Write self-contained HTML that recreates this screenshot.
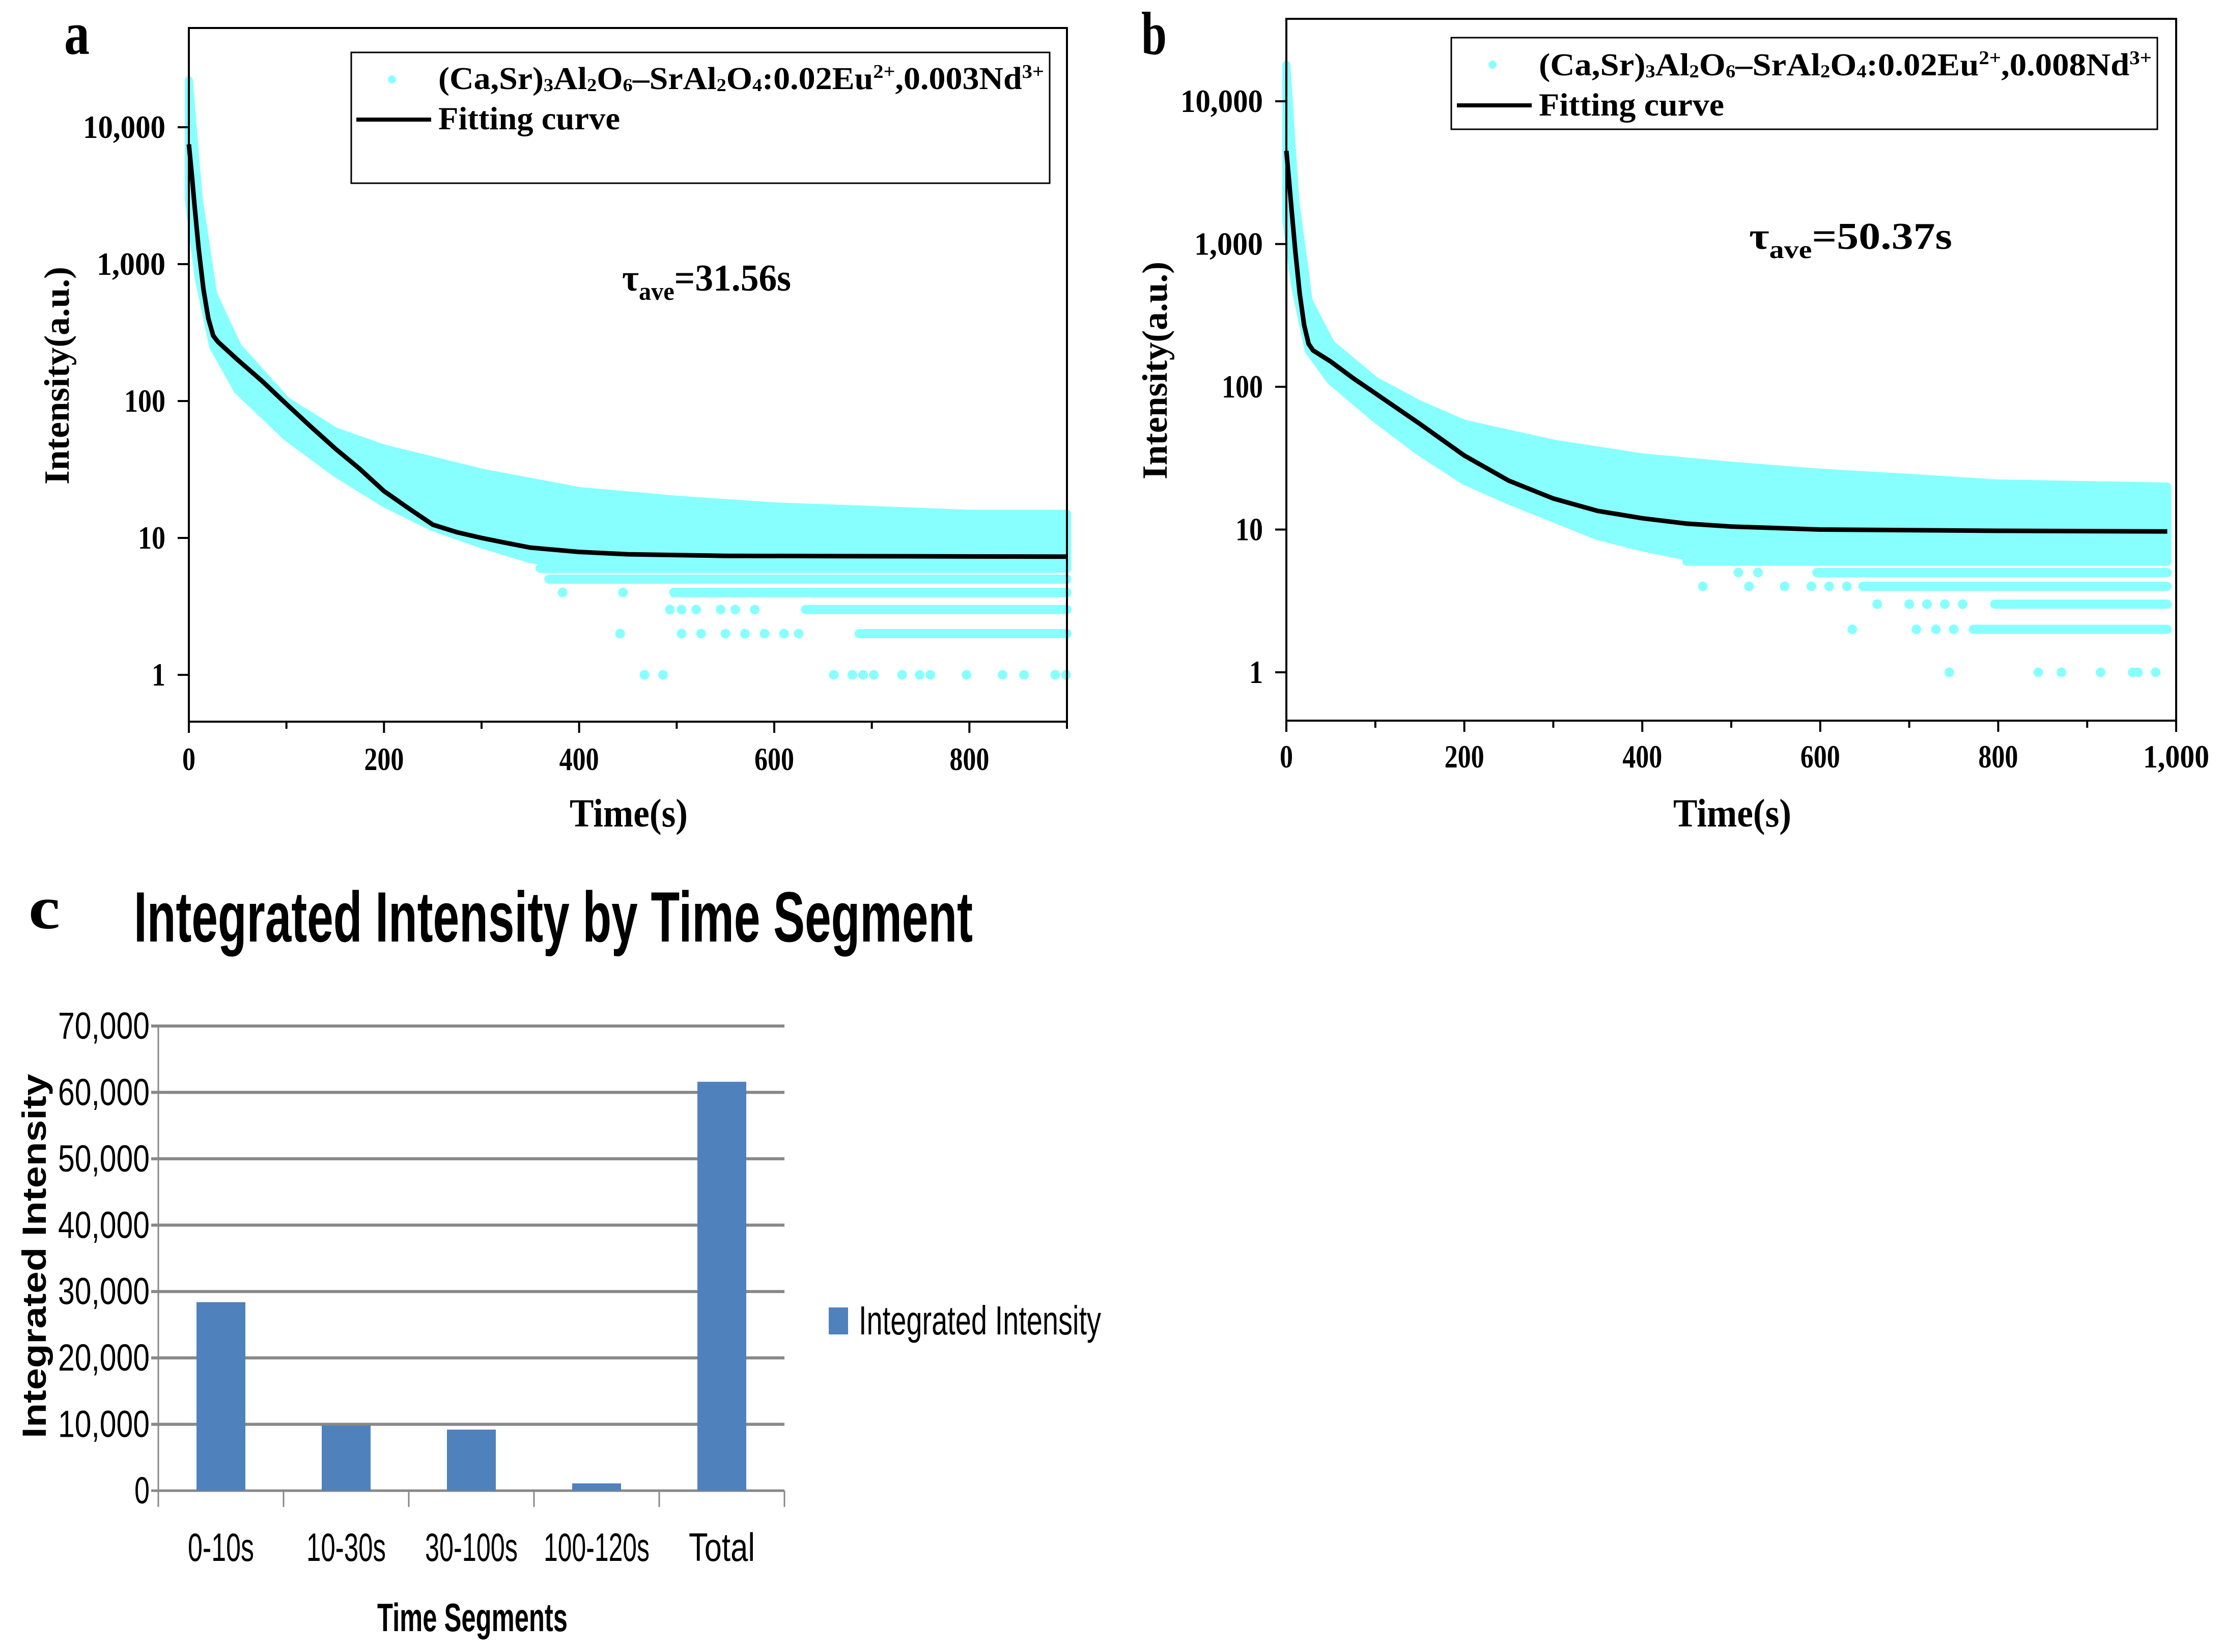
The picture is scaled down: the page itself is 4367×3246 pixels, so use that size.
<!DOCTYPE html>
<html><head><meta charset="utf-8"><style>
html,body{margin:0;padding:0;background:#fff;}
svg{display:block;}
.serif{font-family:"Liberation Serif","DejaVu Serif",serif;font-weight:bold;}
.sans{font-family:"Liberation Sans","DejaVu Sans",sans-serif;}
</style></head><body>
<svg id="fig" xmlns="http://www.w3.org/2000/svg" width="4367" height="3246" viewBox="0 0 4367 3246">
<rect x="0" y="0" width="4367" height="3246" fill="#fff"/>
<g id="panelA"></g>
<g id="panelB"></g>
<g id="panelC"></g>
</svg>
<script>
// ---------- Panel a data ----------
const aFitT=[0,3,6,10,15,20,25,30,50,75,100,125,150,175,200,225,250,275,300,325,350,400,450,550,900];
const aFitV=[7500,4500,2600,1300,650,400,300,270,200,140,95,65,45,32,22,16.5,12.5,11,10,9.2,8.5,7.9,7.6,7.4,7.3];
const aUpT=[0,5,10,25,50,100,150,200,300,400,500,600,700,800,900];
const aUpV=[22000,8000,3000,600,250,100,60,45,30,22,19,17,16,15,15];
const aLoT=[0,10,25,50,100,150,200,250,300,350,400,900];
const aLoV=[3000,800,250,120,55,30,18,12,9,7,6.2,6];
const aRowLevel=[6,5,4,3,2];
const aRowStart=[360,369,497,632,687];
const aRowEnd=[900,900,900,900,900];
const aDotT=[383,445,493,505,520,545,560,580,442,505,525,550,570,590,610,625,467,486,661,680,691,702,731,749,760,797,834,856,888,899];
const aDotV=[4,4,3,3,3,3,3,3,2,2,2,2,2,2,2,2,1,1,1,1,1,1,1,1,1,1,1,1,1,1];
const aXTicks=[0,200,400,600,800];
const aXLabels=["0","200","400","600","800"];
const aYTicks=[10000,1000,100,10,1];
const aYLabels=["10,000","1,000","100","10","1"];

// ---------- Panel b data ----------
const bFitT=[0,3,6,10,15,20,25,30,50,75,100,150,200,250,300,350,400,450,500,600,800,990];
const bFitV=[4500,2800,1700,900,450,270,200,180,150,115,90,55,33,22,16.5,13.5,12,11,10.5,10,9.8,9.7];
const bUpT=[0,5,10,25,50,100,150,200,300,400,500,600,700,800,990];
const bUpV=[18000,6000,2000,400,200,110,75,55,40,32,28,25,23,21,20];
const bLoT=[0,10,25,50,100,150,200,250,300,350,400,450,990];
const bLoV=[1500,500,180,110,60,35,22,16,12,9,7.5,6.5,6];
const bRowLevel=[6,5,4,3,2];
const bRowStart=[450,596,648,796,772];
const bRowEnd=[990,990,990,990,990];
const bDotT=[508,530,468,520,560,590,610,630,664,700,720,740,760,636,708,730,750,745,845,871,915,951,957,977];
const bDotV=[5,5,4,4,4,4,4,4,3,3,3,3,3,2,2,2,2,1,1,1,1,1,1,1];
const bXTicks=[0,200,400,600,800,1000];
const bXLabels=["0","200","400","600","800","1,000"];
const bYTicks=[10000,1000,100,10,1];
const bYLabels=["10,000","1,000","100","10","1"];

// ---------- Panel c data ----------
const cCategories=["0-10s","10-30s","30-100s","100-120s","Total"];
const cValues=[28400,9800,9200,1100,61600];
const cYTicks=[0,10000,20000,30000,40000,50000,60000,70000];
const cYLabels=["0","10,000","20,000","30,000","40,000","50,000","60,000","70,000"];

const NS="http://www.w3.org/2000/svg";
function mk(parent,tag,attrs,text){
  const e=document.createElementNS(NS,tag);
  for(const k in attrs) e.setAttribute(k,attrs[k]);
  if(text!==undefined) e.textContent=text;
  parent.appendChild(e);
  return e;
}
const CYAN="#88ffff";

function decayPanel(g,geo,fitT,fitV,upT,upV,loT,loV,rowL,rowS,rowE,dotT,dotV,xT,xL,yT,yL,texts){
  const X=t=>geo.left+(t/geo.xmax)*(geo.right-geo.left);
  const Y=v=>geo.y1-Math.log10(v)*geo.dec;
  let pts=[];
  for(let i=0;i<upT.length;i++) pts.push(X(upT[i]).toFixed(1)+","+Y(upV[i]).toFixed(1));
  for(let i=loT.length-1;i>=0;i--) pts.push(X(loT[i]).toFixed(1)+","+Y(loV[i]).toFixed(1));
  const cloud=mk(g,"polygon",{points:pts.join(" "),fill:CYAN,stroke:CYAN,"stroke-width":16,"stroke-linejoin":"round"});
  
  
  for(let i=0;i<rowL.length;i++){
    const r=mk(g,"line",{x1:X(rowS[i]),x2:X(rowE[i]),y1:Y(rowL[i]),y2:Y(rowL[i]),stroke:CYAN,"stroke-width":18,"stroke-linecap":"round"});
    
    
  }
  for(let i=0;i<dotT.length;i++){
    const d=mk(g,"circle",{cx:X(dotT[i]),cy:Y(dotV[i]),r:9.5,fill:CYAN});
    
    
  }
  let fp=[];
  for(let i=0;i<fitT.length;i++) fp.push(X(fitT[i]).toFixed(1)+","+Y(fitV[i]).toFixed(1));
  const fit=mk(g,"polyline",{points:fp.join(" "),fill:"none",stroke:"#000","stroke-width":9,"stroke-linejoin":"round"});
  
  
  const fr=mk(g,"rect",{x:geo.left,y:geo.top,width:geo.right-geo.left,height:geo.bottom-geo.top,fill:"none",stroke:"#000","stroke-width":4});
  
  
  for(let t=0;t<=geo.xmax;t+=100){
    const major=(t%200===0);
    mk(g,"line",{x1:X(t),x2:X(t),y1:geo.bottom,y2:geo.bottom+(major?22:14),stroke:"#000","stroke-width":4});
  }
  for(let i=0;i<xT.length;i++){
    const w=xL[i].length*26;
    const tx=mk(g,"text",{x:X(xT[i]),y:geo.xlabY,"text-anchor":"middle","font-size":64,class:"serif",textLength:w,lengthAdjust:"spacingAndGlyphs"},xL[i]);
    
    
  }
  for(let i=0;i<yT.length;i++){
    const y=Y(yT[i]);
    mk(g,"line",{x1:geo.left-22,x2:geo.left,y1:y,y2:y,stroke:"#000","stroke-width":4});
    const w=yL[i].length*27;
    const ty=mk(g,"text",{x:geo.left-46,y:y+21,"text-anchor":"end","font-size":64,class:"serif",textLength:w,lengthAdjust:"spacingAndGlyphs"},yL[i]);
    
    
  }
  const xt=mk(g,"text",{x:texts.xTitleX,y:1624,"text-anchor":"middle","font-size":78,class:"serif",textLength:232,lengthAdjust:"spacingAndGlyphs"},"Time(s)");
  
  
  const yt=mk(g,"text",{x:0,y:0,"text-anchor":"middle","font-size":70,class:"serif",textLength:428,lengthAdjust:"spacingAndGlyphs",transform:"translate("+texts.yTitleX+","+texts.yTitleY+") rotate(-90)"},"Intensity(a.u.)");
  
  
  const pl=mk(g,"text",{x:texts.labX,y:106,"font-size":120,class:"serif",textLength:50,lengthAdjust:"spacingAndGlyphs"},texts.label);
  
  
  const lg=mk(g,"g",{});
  
  
  mk(lg,"rect",{x:texts.lgX,y:texts.lgY,width:texts.lgW,height:texts.lgH,fill:"#fff",stroke:"#000","stroke-width":3});
  mk(lg,"circle",{cx:texts.mX,cy:texts.mY,r:8,fill:CYAN});
  const lt=mk(lg,"text",{x:texts.tX,y:texts.tY,"font-size":62,class:"serif",textLength:texts.tW,lengthAdjust:"spacingAndGlyphs"});
  
  
  const parts=[["(Ca,Sr)",0],["3",1],["Al",0],["2",1],["O",0],["6",1],["–SrAl",0],["2",1],["O",0],["4",1],[":0.02Eu",0],["2+",2],[","+texts.nd+"Nd",0],["3+",2]];
  parts.forEach(p=>{
    const a={};
    if(p[1]===1){a["font-size"]=36;a["baseline-shift"]="-4";}
    if(p[1]===2){a["font-size"]=38;a["baseline-shift"]="22";}
    mk(lt,"tspan",a,p[0]);
  });
  mk(lg,"line",{x1:texts.lX1,x2:texts.lX2,y1:texts.lY,y2:texts.lY,stroke:"#000","stroke-width":8});
  const ft=mk(lg,"text",{x:texts.tX,y:texts.fY,"font-size":64,class:"serif",textLength:texts.fW,lengthAdjust:"spacingAndGlyphs"},"Fitting curve");
  
  
  const tau=mk(g,"text",{x:texts.tauX,y:texts.tauY,"font-size":74,class:"serif",textLength:texts.tauW,lengthAdjust:"spacingAndGlyphs"});
  
  
  mk(tau,"tspan",{},"τ");
  mk(tau,"tspan",{"font-size":50,"baseline-shift":"-18"},"ave");
  mk(tau,"tspan",{},texts.tau);
}

decayPanel(document.getElementById("panelA"),
  {left:371,right:2096,top:55,bottom:1418,xmax:900,y1:1326,dec:269,xlabY:1513},
  aFitT,aFitV,aUpT,aUpV,aLoT,aLoV,aRowLevel,aRowStart,aRowEnd,aDotT,aDotV,aXTicks,aXLabels,aYTicks,aYLabels,
  {xTitleX:1235,yTitleX:135,yTitleY:738,labX:126,label:"a",lgX:690,lgY:103,lgW:1372,lgH:257,mX:770,mY:156,tX:861,tY:175,tW:1190,
   lX1:700,lX2:847,lY:235,fY:254,fW:357,nd:"0.003",tauX:1222,tauY:571,tauW:332,tau:"=31.56s"});
decayPanel(document.getElementById("panelB"),
  {left:2527,right:4275,top:37,bottom:1416,xmax:1000,y1:1321,dec:280.5,xlabY:1508},
  bFitT,bFitV,bUpT,bUpV,bLoT,bLoV,bRowLevel,bRowStart,bRowEnd,bDotT,bDotV,bXTicks,bXLabels,bYTicks,bYLabels,
  {xTitleX:3403,yTitleX:2292,yTitleY:728,labX:2242,label:"b",lgX:2851,lgY:74,lgW:1387,lgH:180,mX:2932,mY:127,tX:3023,tY:148,tW:1204,
   lX1:2862,lX2:3009,lY:207,fY:227,fW:364,nd:"0.008",tauX:3436,tauY:489,tauW:399,tau:"=50.37s"});

(function(){
  const g=document.getElementById("panelC");
  const L=311,R=1541,Y0=2929,YT=2016,VMAX=70000;
  const Y=v=>Y0-(v/VMAX)*(Y0-YT);
  const cw=(R-L)/cCategories.length;
  const t=mk(g,"text",{x:263,y:1850,"font-size":140,class:"sans","font-weight":"bold",textLength:1648,lengthAdjust:"spacingAndGlyphs"},"Integrated Intensity by Time Segment");
  
  
  const pl=mk(g,"text",{x:56,y:1824,"font-size":120,class:"serif",textLength:62,lengthAdjust:"spacingAndGlyphs"},"c");
  
  
  for(let i=0;i<cYTicks.length;i++){
    const y=Y(cYTicks[i]);
    const gl=mk(g,"line",{x1:L-14,x2:R,y1:y,y2:y,stroke:"#888","stroke-width":i===0?5:6});
    
    
    const w=cYLabels[i].length*30;
    const tl=mk(g,"text",{x:294,y:y+25,"text-anchor":"end","font-size":74,class:"sans",textLength:w,lengthAdjust:"spacingAndGlyphs"},cYLabels[i]);
    
    
  }
  mk(g,"line",{x1:L,x2:L,y1:YT,y2:Y0+30,stroke:"#888","stroke-width":3});
  for(let i=0;i<=cCategories.length;i++){
    mk(g,"line",{x1:L+i*cw,x2:L+i*cw,y1:Y0,y2:Y0+32,stroke:"#888","stroke-width":3});
  }
  for(let i=0;i<cCategories.length;i++){
    const cx=L+cw*(i+0.5);
    const b=mk(g,"rect",{x:cx-48,y:Y(cValues[i]),width:96,height:Y0-Y(cValues[i]),fill:"#4f81bd"});
    
    
    const w=cCategories[i].length*26;
    const cl=mk(g,"text",{x:cx,y:3067,"text-anchor":"middle","font-size":78,class:"sans",textLength:w,lengthAdjust:"spacingAndGlyphs"},cCategories[i]);
    
    
  }
  const xt=mk(g,"text",{x:928,y:3205,"text-anchor":"middle","font-size":78,class:"sans","font-weight":"bold",textLength:374,lengthAdjust:"spacingAndGlyphs"},"Time Segments");
  
  
  const yt=mk(g,"text",{x:0,y:0,"text-anchor":"middle","font-size":66,class:"sans","font-weight":"bold",textLength:716,lengthAdjust:"spacingAndGlyphs",transform:"translate(90,2468) rotate(-90)"},"Integrated Intensity");
  
  
  const lg=mk(g,"g",{});
  
  
  mk(lg,"rect",{x:1628,y:2569,width:38,height:53,fill:"#4f81bd"});
  mk(lg,"text",{x:1687,y:2622,"font-size":80,class:"sans",textLength:476,lengthAdjust:"spacingAndGlyphs"},"Integrated Intensity");
})();
</script>
</body></html>
